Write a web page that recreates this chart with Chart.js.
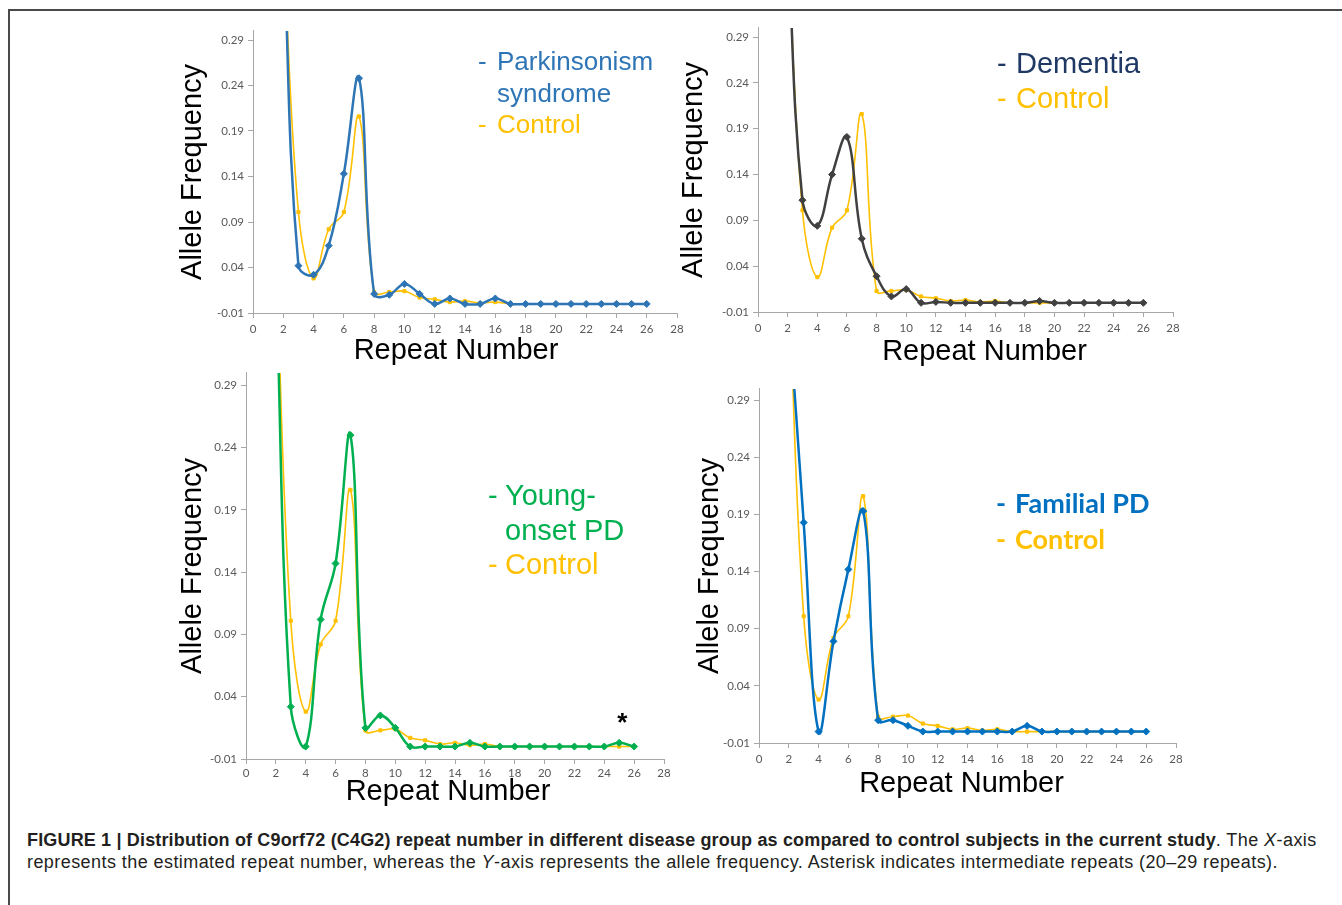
<!DOCTYPE html>
<html>
<head>
<meta charset="utf-8">
<title>C9orf72 repeat number</title>
<script src="https://cdn.jsdelivr.net/npm/chart.js@4.4.0/dist/chart.umd.min.js"></script>
<style>
  body { margin: 0; background: #fff; width: 1342px; height: 905px; overflow: hidden; position: relative;
         font-family: "Liberation Sans", Arial, sans-serif; }
  .frame { position: absolute; left: 8px; top: 9px; width: 1400px; height: 1000px;
           border-left: 2px solid #4a4a4a; border-top: 2px solid #4a4a4a; }
  canvas { position: absolute; }
  .lg { position: absolute; white-space: nowrap; }
  .lg .d { display: inline-block; }
  .caption { position: absolute; left: 27px; top: 829px; font-size: 18px; line-height: 22px; color: #231f20;
             white-space: nowrap; letter-spacing: 0.43px; }
  .caption b { letter-spacing: 0.16px; }
</style>
</head>
<body>
<div class="frame"></div>

<canvas id="parkinsonism" width="514" height="348" style="left:176px;top:20px"></canvas>
<canvas id="dementia" width="513" height="352" style="left:677px;top:17px"></canvas>
<canvas id="youngOnset" width="504" height="447" style="left:176px;top:362px"></canvas>
<canvas id="familial" width="497" height="423" style="left:693px;top:378px"></canvas>

<div class="lg" style="left:478px;top:46px;font-size:26px;line-height:31.5px">
  <div style="color:#2e75b6"><span class="d" style="width:19px">-</span>Parkinsonism</div>
  <div style="color:#2e75b6"><span class="d" style="width:19px"></span>syndrome</div>
  <div style="color:#ffc000"><span class="d" style="width:19px">-</span>Control</div>
</div>
<div class="lg" style="left:997px;top:46px;font-size:29px;line-height:35px">
  <div style="color:#1f3864"><span class="d" style="width:19px">-</span>Dementia</div>
  <div style="color:#ffc000"><span class="d" style="width:19px">-</span>Control</div>
</div>
<div class="lg" style="left:488px;top:478px;font-size:29px;line-height:34.5px">
  <div style="color:#00b050"><span class="d" style="width:17px">-</span>Young-</div>
  <div style="color:#00b050"><span class="d" style="width:17px"></span>onset PD</div>
  <div style="color:#ffc000"><span class="d" style="width:17px">-</span>Control</div>
</div>
<div class="lg" style="left:996px;top:485px;font-family:Lato,sans-serif;font-weight:bold;font-size:27px;line-height:36px">
  <div style="color:#0070c0"><span class="d" style="width:19px">-</span>Familial PD</div>
  <div style="color:#ffc000"><span class="d" style="width:19px">-</span>Control</div>
</div>

<div class="caption"><b>FIGURE 1 | Distribution of C9orf72 (C4G2) repeat number in different disease group as compared to control subjects in the current study</b>. The <i>X</i>-axis<br>represents the estimated repeat number, whereas the <i>Y</i>-axis represents the allele frequency. Asterisk indicates intermediate repeats (20–29 repeats).</div>

<script>
// repeat number on the x axis
var repeats = [2, 3, 4, 5, 6, 7, 8, 9, 10, 11, 12, 13, 14, 15, 16, 17, 18, 19, 20, 21, 22, 23, 24, 25, 26];

// allele frequencies, one value per repeat number
var control      = [0.40, 0.101, 0.028, 0.082, 0.101, 0.206, 0.013, 0.013, 0.014, 0.007, 0.005, 0.002, 0.003, 0.001, 0.002, 0, 0, 0, 0, 0, 0, 0, 0, 0, 0];
var parkinsonism = [0.41, 0.042, 0.032, 0.064, 0.143, 0.248, 0.011, 0.010, 0.022, 0.011, 0, 0.006, 0, 0, 0.006, 0, 0, 0, 0, 0, 0, 0, 0, 0, 0];
var dementia     = [0.40, 0.112, 0.084, 0.140, 0.181, 0.070, 0.029, 0.007, 0.015, 0, 0.001, 0, 0, 0, 0, 0, 0, 0.002, 0, 0, 0, 0, 0, 0, 0];
var youngOnset   = [0.38, 0.032, 0, 0.102, 0.147, 0.250, 0.015, 0.025, 0.015, 0, 0, 0, 0, 0.003, 0, 0, 0, 0, 0, 0, 0, 0, 0, 0.003, 0];
var familial     = [0.37, 0.183, 0, 0.079, 0.142, 0.193, 0.010, 0.010, 0.005, 0, 0, 0, 0, 0, 0, 0, 0.005, 0, 0, 0, 0, 0, 0, 0, 0];

// tick labels
var xTicks = [0, 2, 4, 6, 8, 10, 12, 14, 16, 18, 20, 22, 24, 26, 28];
var yTicks = [-0.01, 0.04, 0.09, 0.14, 0.19, 0.24, 0.29];

// intermediate repeat marked with an asterisk on the young-onset panel
var intermediateRepeat = 25;

var AXIS_GREY = '#a6a6a6';
var CONTROL_COLOR = '#ffc000';

function toPoints(values) {
  return repeats.map(function(r, i) { return {x: r, y: values[i]}; });
}

var starMark = {
  id: 'starMark',
  afterDatasetsDraw: function(chart) {
    var i = repeats.indexOf(intermediateRepeat);
    var x = chart.scales.x.getPixelForValue(intermediateRepeat);
    var y = chart.scales.y.getPixelForValue(youngOnset[i]);
    var ctx = chart.ctx;
    ctx.save();
    ctx.font = 'bold 26px "Liberation Sans"';
    ctx.fillStyle = '#000';
    ctx.textAlign = 'center';
    ctx.textBaseline = 'middle';
    ctx.fillText('*', x + 3, y - 19);
    ctx.restore();
  }
};

// "Repeat Number" is not centred under the plot in the original, so draw it here
var repeatTitle = {
  id: 'repeatTitle',
  afterDraw: function(chart, args, opts) {
    var area = chart.chartArea;
    var ctx = chart.ctx;
    ctx.save();
    ctx.font = '29px "Liberation Sans"';
    ctx.fillStyle = '#000';
    ctx.textAlign = 'center';
    ctx.textBaseline = 'middle';
    ctx.fillText('Repeat Number', (area.left + area.right) / 2 + opts.shift, chart.height - 17.4);
    ctx.restore();
  }
};

function makePanel(id, label, values, color, box, plugins) {
  var ctx = document.getElementById(id).getContext('2d');
  return new Chart(ctx, {
    type: 'line',
    data: {
      datasets: [{
        label: label,
        data: toPoints(values),
        borderColor: color,
        backgroundColor: color,
        borderWidth: 2.5,
        pointStyle: 'rectRot',
        pointRadius: 3.5,
        pointBorderWidth: 1,
        tension: 0.4
      }, {
        label: 'Control',
        data: toPoints(control),
        borderColor: CONTROL_COLOR,
        backgroundColor: CONTROL_COLOR,
        borderWidth: 1.6,
        pointStyle: 'rect',
        pointRadius: 2.2,
        pointBorderWidth: 1,
        tension: 0.4
      }]
    },
    options: {
      responsive: false,
      animation: false,
      layout: { padding: { top: box.padTop, right: box.padRight, left: 0, bottom: 0 } },
      elements: { line: { capBezierPoints: false } },
      plugins: {
        legend: { display: false },
        tooltip: { enabled: false },
        repeatTitle: { shift: box.titleShift }
      },
      scales: {
        x: {
          type: 'linear',
          min: 0,
          max: 28,
          afterBuildTicks: function(s) { s.ticks = xTicks.map(function(v) { return {value: v}; }); },
          afterFit: function(s) { s.height = box.axisH; },
          grid: { drawOnChartArea: false, drawTicks: true, tickLength: 5, tickColor: AXIS_GREY },
          border: { color: AXIS_GREY, width: 1 },
          ticks: { font: { family: 'Lato', size: 11.5 }, color: '#595959', padding: box.tickPad,
                   maxRotation: 0, autoSkip: false }
        },
        y: {
          type: 'linear',
          min: -0.01,
          max: 0.30,
          afterBuildTicks: function(s) { s.ticks = yTicks.map(function(v) { return {value: v}; }); },
          afterFit: function(s) { s.width = box.axisW; },
          grid: { drawOnChartArea: false, drawTicks: true, tickLength: 5, tickColor: AXIS_GREY },
          border: { color: AXIS_GREY, width: 1 },
          ticks: {
            font: { family: 'Lato', size: 11.5 }, color: '#595959', padding: 4,
            callback: function(v) { return v.toFixed(2); }
          },
          title: { display: true, text: 'Allele Frequency', color: '#000', padding: 0,
                   font: { family: 'Liberation Sans', size: 29, lineHeight: 1.2 } }
        }
      }
    },
    plugins: [repeatTitle].concat(plugins || [])
  });
}

makePanel('parkinsonism', 'Parkinsonism syndrome', parkinsonism, '#2e75b6',
  { axisW: 77, axisH: 55, padTop: 10, padRight: 13, tickPad: 4, titleShift: -9 });
makePanel('dementia', 'Dementia', dementia, '#404040',
  { axisW: 81, axisH: 57, padTop: 10, padRight: 17, tickPad: 4, titleShift: 19 });
makePanel('youngOnset', 'Young-onset PD', youngOnset, '#00b050',
  { axisW: 70, axisH: 50, padTop: 10, padRight: 16, tickPad: 2, titleShift: -7 }, [starMark]);
makePanel('familial', 'Familial PD', familial, '#0070c0',
  { axisW: 66, axisH: 58, padTop: 10, padRight: 14, tickPad: 4, titleShift: -6 });
</script>
</body>
</html>
